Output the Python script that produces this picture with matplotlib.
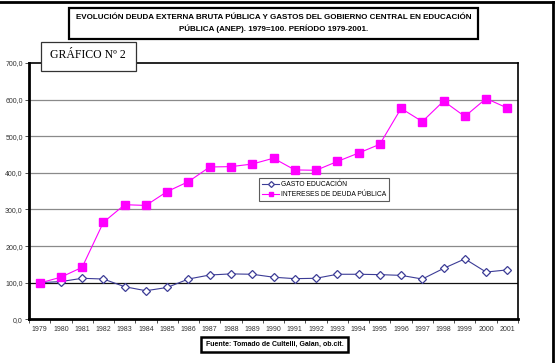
import matplotlib
matplotlib.use("Agg")
import matplotlib.pyplot as plt
from matplotlib.patches import Rectangle
from matplotlib.lines import Line2D
import numpy as np

W, H = 559, 363

years = [str(y) for y in range(1979, 2002)]
gasto_educacion = [100, 103, 112, 110, 89, 78, 87, 110, 121, 124, 123, 115,
                   111, 112, 123, 123, 122, 120, 110, 139, 165, 129, 135]
intereses_deuda = [99, 115, 142, 265, 313, 311, 349, 376, 416, 417, 424, 440,
                   408, 407, 431, 454, 478, 576, 540, 596, 554, 603, 577]
y_ticks = [0, 100, 200, 300, 400, 500, 600, 700]
y_labels = ["0,0", "100,0", "200,0", "300,0", "400,0", "500,0", "600,0", "700,0"]

plt.rcParams['font.family'] = ['Liberation Sans', 'DejaVu Sans']


def px_box(x0, y0, x1, y1):
    # pixel box (top-left origin) -> figure fraction
    return x0 / W, 1 - y1 / H, (x1 - x0) / W, (y1 - y0) / H


fig = plt.figure(figsize=(W / 100, H / 100), dpi=100)
ax = fig.add_axes(px_box(29, 63, 518, 319.3))

x = np.arange(len(years))
ax.plot(x, gasto_educacion, color='#3c3c96', lw=0.8, marker='D', ms=4.3,
        mfc='white', mec='#3c3c96', mew=0.9, label='GASTO EDUCACIÓN', zorder=3)
ax.plot(x, intereses_deuda, color='#ff00ff', lw=0.8, marker='s', ms=5.1,
        mfc='#ff00ff', mec='#ff00ff', label='INTERESES DE DEUDA PÚBLICA', zorder=3)

ax.set_xlim(-0.5, len(years) - 0.5)
ax.set_ylim(0, 700)
ax.set_xticks(x)
ax.set_xticklabels(years, fontsize=5, color='#333333')
ax.set_xticks(np.arange(-0.5, len(years)), minor=True)
ax.tick_params(axis='x', which='major', length=0, pad=5)
ax.tick_params(axis='x', which='minor', length=3, width=0.6, color='#333333')
ax.set_yticks(y_ticks)
ax.set_yticklabels(y_labels, fontsize=5, color='#333333')
ax.tick_params(axis='y', length=3, width=0.6, pad=1.5, color='#333333')

for v in y_ticks[1:-1]:
    ax.axhline(v, color='#111111' if v == 100 else '#8a8a8a', lw=0.9, zorder=1)

for side in ['left', 'bottom']:
    ax.spines[side].set_linewidth(2.0)
for side in ['top', 'right']:
    ax.spines[side].set_linewidth(1.2)

leg = ax.legend(loc='upper left', bbox_to_anchor=((259 - 29) / 489, 1 - (178.3 - 63) / 256.3),
                fontsize=4.9, frameon=True, fancybox=False, borderpad=0.4,
                handlelength=2.6, handletextpad=0.3, labelspacing=0.5, borderaxespad=0,
                markerscale=0.7)
leg.get_frame().set_edgecolor('#333333')
leg.get_frame().set_linewidth(0.8)

# outer frame lines (top and right)
fig.add_artist(Line2D([0, 553 / W], [1 - 2 / H, 1 - 2 / H], transform=fig.transFigure,
                      color='black', lw=2))
fig.add_artist(Line2D([553 / W, 553 / W], [0, 1 - 2 / H], transform=fig.transFigure,
                      color='black', lw=2))

# title box
bx = px_box(69, 8, 478, 39)
fig.add_artist(Rectangle(bx[:2], bx[2], bx[3], transform=fig.transFigure,
                         facecolor='white', edgecolor='black', lw=1.6))
fig.text((69 + 478) / 2 / W, 1 - 23.5 / H,
         "EVOLUCIÓN DEUDA EXTERNA BRUTA PÚBLICA Y GASTOS DEL GOBIERNO CENTRAL EN EDUCACIÓN\n"
         "PÚBLICA (ANEP). 1979=100. PERÍODO 1979-2001.",
         ha='center', va='center', fontsize=5.8, fontweight='bold', linespacing=1.45)

# GRÁFICO box
gx = px_box(41, 42, 136, 71)
fig.add_artist(Rectangle(gx[:2], gx[2], gx[3], transform=fig.transFigure,
                         facecolor='white', edgecolor='#333333', lw=0.9, zorder=5))
fig.text(50 / W, 1 - 55 / H, "GRÁFICO Nº 2", ha='left', va='center', fontsize=8.5,
         family=['Liberation Serif', 'DejaVu Serif'], zorder=6)

# source box
sx = px_box(201, 337, 348, 352)
fig.add_artist(Rectangle(sx[:2], sx[2], sx[3], transform=fig.transFigure,
                         facecolor='white', edgecolor='black', lw=1.8))
fig.text(206 / W, 1 - 344.5 / H, "Fuente: Tomado de Cultelli, Galan, ob.cit.",
         ha='left', va='center', fontsize=5.0, fontweight='bold')

fig.savefig('out.png', dpi=100)
